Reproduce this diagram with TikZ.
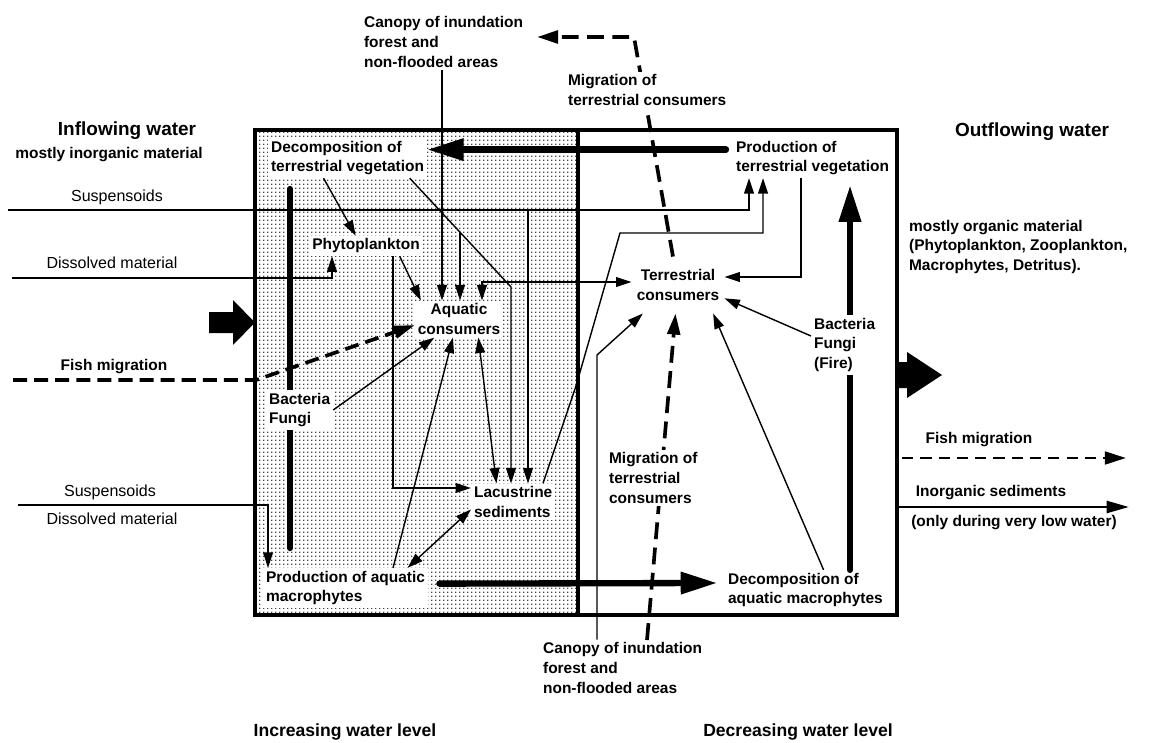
\documentclass[tikz,border=0pt]{standalone}
\usepackage{fontspec}
\setmainfont{Liberation Sans}
\usetikzlibrary{arrows.meta, patterns, backgrounds}

% fine dot screen for the flooded side
\pgfdeclarepatternformonly{floodDots}{\pgfpointorigin}{\pgfpoint{2.7pt}{2.7pt}}{\pgfpoint{2.7pt}{2.7pt}}{%
  \pgfpathcircle{\pgfpoint{1.35pt}{1.35pt}}{0.55pt}%
  \pgfusepath{fill}}

\begin{document}
\begin{tikzpicture}[>=stealth, x=0.25mm, y=-0.25mm,
    lab/.style={font=\fontsize{11}{14}\selectfont\bfseries, align=left, inner sep=2pt},
    thinlab/.style={font=\fontsize{11.4}{14}\selectfont, inner sep=1pt},
    head/.style={font=\fontsize{13.5}{16}\selectfont\bfseries},
    levelhead/.style={font=\fontsize{12.5}{15}\selectfont\bfseries},
    flow/.style={line width=1pt, -{Triangle[length=11pt,width=7pt]}},
    twoway/.style={line width=1pt, {Triangle[length=11pt,width=7pt]}-{Triangle[length=11pt,width=7pt]}},
    bigflow/.style={line width=4.5pt, line cap=round, -{Triangle[length=26pt,width=15pt]}},
    migr/.style={line width=2.6pt, dash pattern=on 12pt off 6pt, -{Triangle[length=15pt,width=9pt]}},
    fishway/.style={line width=2.6pt, dash pattern=on 10pt off 5pt, -{Triangle[length=15pt,width=9pt]}}]
    \useasboundingbox (0,0) rectangle (1149,743);

    % flooded side
    \begin{scope}[on background layer]
        \fill[pattern=floodDots] (257,132) rectangle (577,613);
    \end{scope}

    % in and out
    \node[head] (inflow) at (127,131) {Inflowing water};
    \node[lab] (inorg) at (109,155) {mostly inorganic material};
    \node[head] (outflow) at (1032,132) {Outflowing water};
    \node[lab, anchor=west] (organic) at (906,247) {mostly organic material\\(Phytoplankton, Zooplankton,\\Macrophytes, Detritus).};
    \node[thinlab] (suspA) at (117,197) {Suspensoids};
    \node[thinlab] (dissA) at (112,263) {Dissolved material};
    \node[lab] (fishIn) at (114,367) {Fish migration};
    \node[thinlab] (suspB) at (110,492) {Suspensoids};
    \node[thinlab] (dissB) at (112,519) {Dissolved material};
    \node[lab] (fishOut) at (979,440) {Fish migration};
    \node[lab] (inorgSed) at (991,493) {Inorganic sediments};
    \node[lab] (lowWater) at (1014,523) {(only during very low water)};
    \node[levelhead] (incr) at (345,732) {Increasing water level};
    \node[levelhead] (decr) at (798,732) {Decreasing water level};

    % compartments
    \node[lab, anchor=west] (canopyT) at (361,42) {Canopy of inundation\\forest and\\non-flooded areas};
    \node[lab, fill=white, anchor=west] (migT) at (565,90) {Migration of\\terrestrial consumers};
    \node[lab, fill=white, anchor=west] (decT) at (268,158) {Decomposition of\\terrestrial vegetation};
    \node[lab, anchor=west] (prodT) at (733,158) {Production of\\terrestrial vegetation};
    \node[lab, fill=white] (phyto) at (366,246) {Phytoplankton};
    \node[lab, fill=white, align=center] (aqua) at (459,319) {Aquatic\\consumers};
    \node[lab, align=center, inner xsep=3.5pt, inner ysep=9pt] (terr) at (678,285) {Terrestrial\\consumers};
    \node[lab, fill=white, anchor=west] (bact) at (266,410) {Bacteria\\Fungi};
    \node[lab, fill=white, anchor=west] (fire) at (811,345) {Bacteria\\Fungi\\(Fire)};
    \node[lab, fill=white, anchor=west] (lacu) at (471,502) {Lacustrine\\sediments};
    \node[lab, fill=white, anchor=west] (migB) at (606,478) {Migration of\\terrestrial\\consumers};
    \node[lab, fill=white, anchor=west] (prodA) at (263,588) {Production of aquatic\\macrophytes};
    \node[lab, anchor=west] (decA) at (725,590) {Decomposition of\\aquatic macrophytes};
    \node[lab, anchor=west] (canopyB) at (540,668) {Canopy of inundation\\forest and\\non-flooded areas};

    % bends and free ends
    \coordinate (suspInA) at (8,210);
    \coordinate (riseA) at (749,210);
    \coordinate (dissInA) at (12,278);
    \coordinate (riseB) at (332,278);
    \coordinate (fishInA) at (13,380);
    \coordinate (fishGate) at (256,380);
    \coordinate (suspInB) at (18,505);
    \coordinate (dropB) at (268,505);
    \coordinate (canopyDrop) at (442,100);
    \coordinate (decBend) at (511,287);
    \coordinate (decBranch) at (460,233);
    \coordinate (suspDrop) at (528,210);
    \coordinate (aquaLink) at (482,282);
    \coordinate (phyDrop) at (393,488);
    \coordinate (sedKink) at (576,386);
    \coordinate (sedBend) at (620,233);
    \coordinate (riseC) at (763,233);
    \coordinate (prodDrop) at (801,277);
    \coordinate (canopyRise) at (597,355);
    \coordinate (fireLine) at (850,400);
    \coordinate (barTop) at (290,189);
    \coordinate (barFoot) at (290,548);
    \coordinate (migTurn) at (634,37);
    \coordinate (migEnd) at (537,37);
    \coordinate (migFoot) at (647,640);
    \coordinate (fishOutA) at (902,458);
    \coordinate (fishOutB) at (1126,458);
    \coordinate (sedOutA) at (897,507);
    \coordinate (sedOutB) at (1129,507);

    % lines running behind the labels
    \begin{scope}[on background layer]
        \draw[line width=4.5pt, line cap=round] (barTop) -- (barFoot);
        \draw[bigflow, shorten >=5pt] (fireLine |- decA.north) -- (fireLine |- prodT.south);
        \draw[migr] (terr.100) -- (migTurn) -- (migEnd);
        \draw[migr] (migFoot) -- (terr.265);
    \end{scope}

    % frame
    \draw[line width=2.6pt] (255,130) rectangle (897,615);
    \draw[line width=2.6pt] (578,130) -- (578,615);
    \fill (209,312) -- (233,312) -- (233,300) -- (255,322.5) -- (233,345) -- (233,333) -- (209,333) -- cycle;
    \fill (897,362) -- (907,362) -- (907,352) -- (942,375) -- (907,398) -- (907,388) -- (897,388) -- cycle;

    % inflow
    \draw[flow] (suspInA) -| (riseA |- prodT.south);
    \draw[flow] (dissInA) -| (riseB |- phyto.south);
    \draw[fishway] (fishInA) -- (fishGate) -- (aqua.188);
    \draw[flow] (suspInB) -| (dropB |- prodA.north);
    \draw[flow] (canopyDrop |- canopyT.south) -- (canopyDrop |- aqua.north);

    % flooded side
    \draw[bigflow, shorten <=5pt] (prodT.174) -- (decT.6);
    \draw[flow] (decT.220) -- (phyto.135);
    \draw[flow] (decT.-18) -- (decBend) -- (decBend |- lacu.north);
    \draw[flow] (decBranch) -- (decBranch |- aqua.north);
    \draw[flow] (suspDrop) -- (suspDrop |- lacu.north);
    \draw[twoway] (aquaLink |- aqua.north) -- (aquaLink) -- (aquaLink -| terr.west);
    \draw[flow] (phyto.343) -- (aqua.154);
    \draw[flow] (phyDrop |- phyto.south) -- (phyDrop) -- (phyDrop -| lacu.west);
    \draw[flow] (bact.east) -- (aqua.217);
    \draw[flow] (prodA.23) -- (aqua.252);
    \draw[twoway] (aqua.316) -- (lacu.132);
    \draw[twoway] (prodA.18) -- (lacu.190);
    \draw[flow] (lacu.32) -- (sedKink) -- (sedBend) -- (riseC) -- (riseC |- prodT.south);
    \draw[bigflow, shorten <=8pt, shorten >=5.5pt] (prodA.3) -- (decA.175);

    % dry side
    \draw[flow] (fire.165) -- (terr.-16);
    \draw[flow] (decA.48) -- (terr.-39);
    \draw[flow] (prodDrop |- prodT.south) -- (prodDrop) -- (prodDrop -| terr.east);
    \draw[flow] (canopyRise |- canopyB.north) -- (canopyRise) -- (terr.219);

    % outflow
    \draw[fishway, line width=2pt, dash pattern=on 8pt off 5pt] (fishOutA) -- (fishOutB);
    \draw[line width=2pt, -{Triangle[length=16pt,width=8.5pt]}] (sedOutA) -- (sedOutB);
\end{tikzpicture}
\end{document}
